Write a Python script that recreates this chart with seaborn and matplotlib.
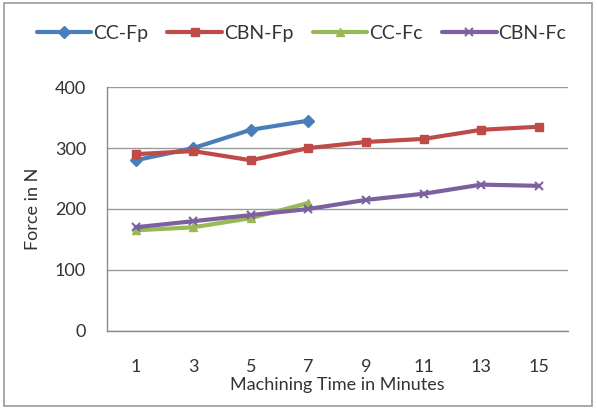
import matplotlib
matplotlib.use("Agg")
import matplotlib.pyplot as plt
import seaborn as sns
import pandas as pd
from matplotlib.patches import Rectangle

times = ["1", "3", "5", "7", "9", "11", "13", "15"]
cc_fp = [280, 300, 330, 345]
cbn_fp = [290, 295, 280, 300, 310, 315, 330, 335]
cc_fc = [165, 170, 185, 210]
cbn_fc = [170, 180, 190, 200, 215, 225, 240, 238]

series = [
    ("CC-Fp", cc_fp, "#4A7EBB", "D", 8),
    ("CBN-Fp", cbn_fp, "#BE4B48", "s", 10),
    ("CC-Fc", cc_fc, "#98B954", "^", 9),
    ("CBN-Fc", cbn_fc, "#7D60A0", "x", 10),
]

sns.set_theme(style="white")
plt.rcParams["font.family"] = ["Lato", "DejaVu Sans"]

fig = plt.figure(figsize=(5.97, 4.09), dpi=100)
ax = fig.add_axes([0.179, 0.191, 0.772, 0.596])

for name, vals, color, mk, ms in series:
    df = pd.DataFrame({"t": times[:len(vals)], "f": vals})
    sns.lineplot(data=df, x="t", y="f", ax=ax, color=color, linewidth=3.2,
                 marker=mk, markersize=ms, markeredgecolor=color,
                 markeredgewidth=1.5 if mk == "x" else 1, label=name, sort=False)

ax.set_xlim(-0.5, 7.5)
ax.set_ylim(0, 400)
ax.set_yticks([0, 100, 200, 300, 400])
ax.yaxis.grid(True, color="#9a9a9a", linewidth=1)
ax.set_axisbelow(True)
for s in ["top", "right"]:
    ax.spines[s].set_visible(False)
for s in ["left", "bottom"]:
    ax.spines[s].set_color("#8a8a8a")
    ax.spines[s].set_linewidth(1)
ax.set_xticks(range(len(times)))
ax.set_xticklabels(times)
ax.set_xticks([i - 0.5 for i in range(len(times) + 1)], minor=True)
ax.tick_params(axis="x", which="major", length=0, pad=20, labelsize=13, colors="#333333")
ax.tick_params(axis="x", which="minor", length=5, width=1, color="#8a8a8a", direction="out")
ax.tick_params(axis="y", length=5, width=1, color="#8a8a8a", direction="out", labelsize=13,
               colors="#333333", pad=10)
ax.set_xlabel("Machining Time in Minutes", fontsize=13, color="#333333", labelpad=2)
ax.set_ylabel("Force in N", fontsize=13, color="#333333", labelpad=10)

handles, labels = ax.get_legend_handles_labels()
for h in handles:
    h.set_markersize(6)
    h.set_linewidth(3)
ax.get_legend().remove()
fig.legend(handles, labels, ncol=4, loc="center", bbox_to_anchor=(0.505, 0.918),
           frameon=False, fontsize=14, handlelength=2.8, handletextpad=0.1,
           columnspacing=1.0, labelcolor="#333333")

fig.patches.append(Rectangle((0.006, 0.007), 0.985, 0.985, transform=fig.transFigure,
                             fill=False, edgecolor="#9a9a9a", linewidth=1.2))

fig.savefig("out.png", dpi=100)
